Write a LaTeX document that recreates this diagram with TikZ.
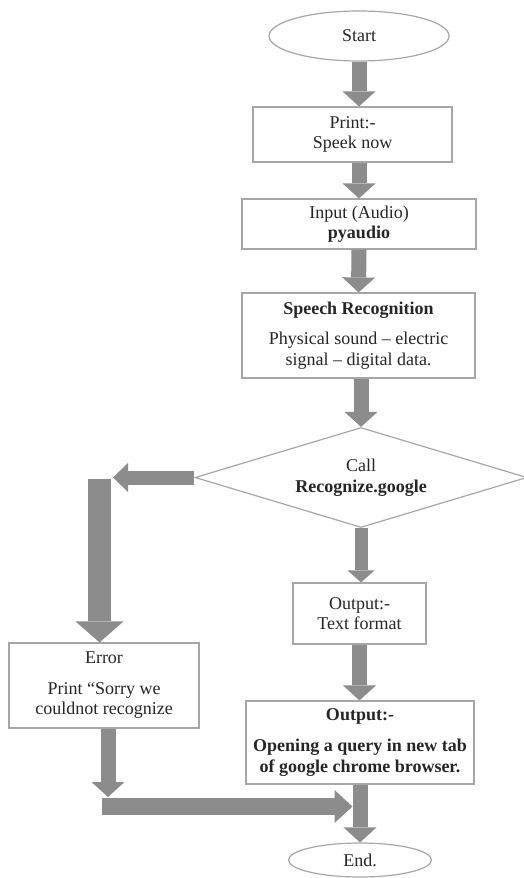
\documentclass[tikz,border=0pt]{standalone}
\usepackage{fontspec}
\setmainfont{Liberation Serif}
\usetikzlibrary{shapes.geometric,arrows.meta}
\definecolor{boxline}{HTML}{A6A6A6}
\definecolor{arrowgray}{HTML}{8C8C8C}
\definecolor{inkgray}{HTML}{262626}
\tikzset{
  box/.style={draw=boxline, line width=1.2pt, rectangle, align=center, inner sep=0pt, text=inkgray},
  term/.style={draw=boxline, line width=1.2pt, ellipse, inner sep=0pt, text=inkgray},
  fat/.style={draw=arrowgray, line width=15pt, -{Triangle[width=33pt,length=15pt,line width=0pt]}},
}
\begin{document}
\begin{tikzpicture}[x=1pt,y=-1pt,font=\fontsize{18}{20.5}\selectfont]
        \useasboundingbox (0,0) rectangle (523,878);
        \node[term, minimum width=180pt, minimum height=50pt] (start) at (359,36) {Start};
        \node[box, minimum width=199pt, minimum height=55pt] (print) at (352.5,134.5) {Print:-\\Speek now};
        \node[box, minimum width=234pt, minimum height=50pt] (input) at (359,224) {Input (Audio)\\\textbf{pyaudio}};
        \node[box, minimum width=233pt, minimum height=85pt] (speech) at (358.5,335.5) {\textbf{Speech Recognition}\\[10pt]Physical sound – electric\\signal – digital data.};
        \node[draw=boxline, line width=1.2pt, diamond, aspect=3.32, minimum width=332pt, minimum height=100pt, inner sep=0pt, align=center, text=inkgray] (call) at (361,477.5) {Call\\\textbf{Recognize.google}};
        \node[box, minimum width=133pt, minimum height=61pt] (out1) at (359.5,613.5) {Output:-\\Text format};
        \node[box, minimum width=190pt, minimum height=85pt] (error) at (104,685.5) {Error\\[10pt]Print “Sorry we\\couldnot recognize};
        \node[box, minimum width=228pt, minimum height=83pt, font=\fontsize{18}{20.5}\selectfont\bfseries] (out2) at (360,742.5) {Output:-\\[11pt]Opening a query in new tab\\of google chrome browser.};
        \node[term, minimum width=143pt, minimum height=34pt] (end) at (360,860) {End.};
        \coordinate (lefttip) at (113,479);
        \coordinate (drop) at (99.5,479);
        \coordinate (corner) at (108,797);
        \coordinate (elbow) at (102,806.5);
        % main line
        \draw[fat] (start.south) -- (start.south |- print.north);
        \draw[fat] (print.south -| input) -- (input.north);
        \draw[fat] (input.south) -- (speech.north);
        \draw[fat] (speech.south -| call.north) -- (call.north);
        \draw[fat, line width=13pt, -{Triangle[width=27pt,length=12pt,line width=0pt]}] (call.south) -- (call.south |- out1.north);
        \draw[fat] (out1.south) -- (out1.south |- out2.north);
        \draw[fat] (out2.south) -- (end.north);
        % error branch
        \draw[fat, line width=14pt, -{Triangle[width=29pt,length=15pt,line width=0pt]}] (call.west) -- (call.west -| lefttip);
        \draw[fat, line width=23pt, -{Triangle[width=48pt,length=21pt,line width=0pt]}] (drop) -- (drop |- error.north);
        \draw[fat] (error.south -| corner) -- (corner);
        \draw[fat, line width=17pt, -{Triangle[width=33pt,length=18pt,line width=0pt]}] (elbow) -- ([xshift=-7.5pt]elbow -| end.north);
    \end{tikzpicture}
\end{document}
